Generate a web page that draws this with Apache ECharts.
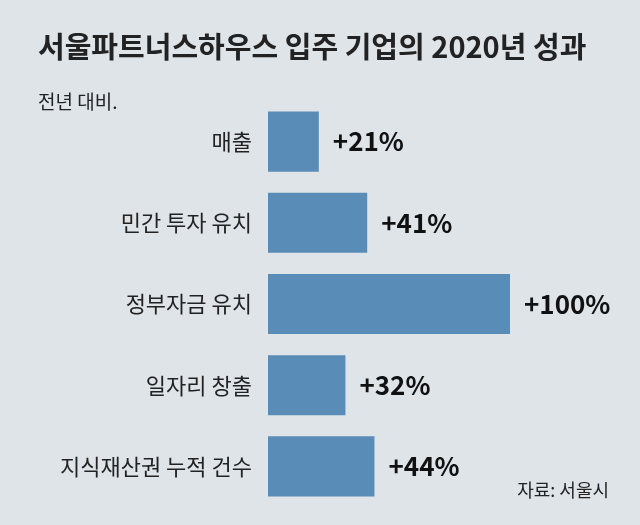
<!DOCTYPE html>
<html><head><meta charset="utf-8">
<script src="https://cdn.jsdelivr.net/npm/echarts@6/dist/echarts.min.js"></script>
<style>html,body{margin:0;padding:0;background:#dfe4e9}#c{width:640px;height:525px}</style>
</head><body><div id="c"></div>
<script>
const categories = ['매출','민간 투자 유치','정부자금 유치','일자리 창출','지식재산권 누적 건수'];
const values = [21,41,100,32,44];
const valueLabels = ['+21%','+41%','+100%','+32%','+44%'];
const chart = echarts.init(document.getElementById('c'));
const F = "'Noto Sans CJK KR', sans-serif";
chart.setOption({
  backgroundColor:'#dfe4e9',
  title:[
    {text:'서울파트너스하우스 입주 기업의 2020년 성과',left:33,top:27,textStyle:{fontFamily:F,fontSize:29,fontWeight:'bold',color:'#222'}},
    {text:'전년 대비.',left:33,top:87,textStyle:{fontFamily:F,fontSize:19,fontWeight:'normal',color:'#222'}},
    {text:'자료: 서울시',right:26,top:476,textStyle:{fontFamily:F,fontSize:18,fontWeight:'normal',color:'#222'}}
  ],
  grid:{left:268,right:130,top:101,bottom:18},
  xAxis:{type:'value',min:0,max:100,show:false},
  yAxis:{type:'category',data:categories,inverse:true,axisLine:{show:false},axisTick:{show:false},
    axisLabel:{fontFamily:F,fontSize:22,color:'#222',margin:16}},
  series:[{type:'bar',data:values,barWidth:'74%',itemStyle:{color:'#5a8cb8'},
    label:{show:true,position:'right',distance:14,fontFamily:F,fontSize:26,fontWeight:'bold',color:'#111',
      formatter:p=>valueLabels[p.dataIndex]}}]
});
</script></body></html>
